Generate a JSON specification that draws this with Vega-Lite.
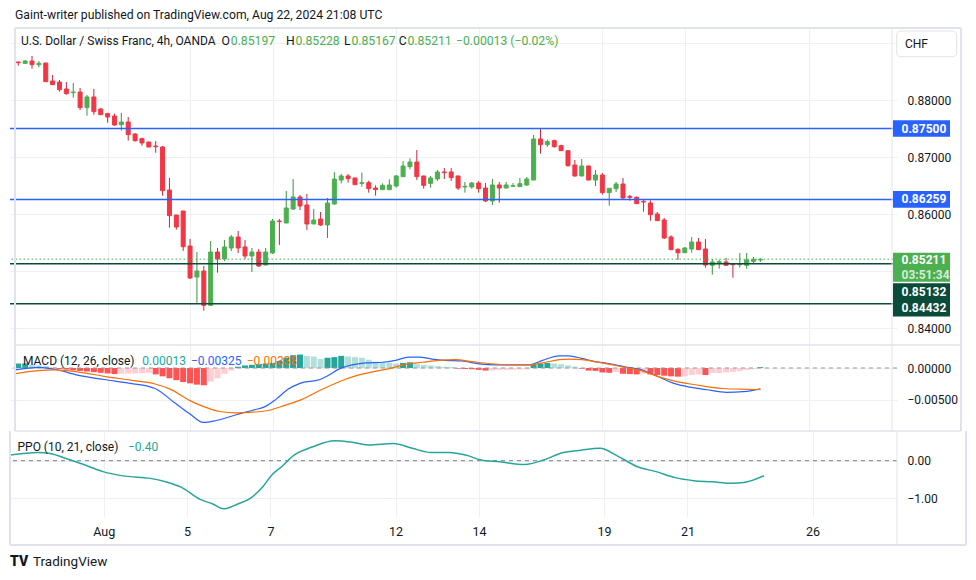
{
"$schema": "https://vega.github.io/schema/vega-lite/v6.json",
"background": "white",
"padding": {"left": 9, "top": 9, "right": 0, "bottom": 0},
"spacing": 0,
"bounds": "flush",
"config": {
 "font": "Roboto",
 "view": {"stroke": null},
 "axis": {"labelFont": "Roboto", "labelFontSize": 12, "labelColor": "#131722", "gridColor": "#eef0f4", "domain": false, "ticks": false, "tickSize": 0}
},
"datasets": {
 "candles": [
{"i":0,"o":0.88666,"h":0.88668,"l":0.88601,"c":0.88654},
{"i":1,"o":0.88642,"h":0.88701,"l":0.8864,"c":0.88683},
{"i":2,"o":0.88683,"h":0.88771,"l":0.88549,"c":0.88619},
{"i":3,"o":0.88619,"h":0.88683,"l":0.88572,"c":0.88642},
{"i":4,"o":0.88648,"h":0.8865,"l":0.88318,"c":0.88321},
{"i":5,"o":0.88333,"h":0.88438,"l":0.88266,"c":0.88269},
{"i":6,"o":0.88315,"h":0.8835,"l":0.88146,"c":0.88181},
{"i":7,"o":0.88193,"h":0.88315,"l":0.88093,"c":0.88111},
{"i":8,"o":0.88128,"h":0.88298,"l":0.88041,"c":0.8814},
{"i":9,"o":0.8814,"h":0.8821,"l":0.87825,"c":0.87866},
{"i":10,"o":0.87866,"h":0.88088,"l":0.87725,"c":0.88053},
{"i":11,"o":0.88053,"h":0.88193,"l":0.87743,"c":0.87796},
{"i":12,"o":0.87842,"h":0.8786,"l":0.8774,"c":0.87743},
{"i":13,"o":0.87761,"h":0.87778,"l":0.87603,"c":0.87702},
{"i":14,"o":0.8772,"h":0.87761,"l":0.87545,"c":0.87562},
{"i":15,"o":0.87568,"h":0.87772,"l":0.87463,"c":0.87615},
{"i":16,"o":0.87615,"h":0.87702,"l":0.87288,"c":0.87393},
{"i":17,"o":0.87404,"h":0.87422,"l":0.8727,"c":0.87288},
{"i":18,"o":0.87323,"h":0.8734,"l":0.872,"c":0.87247},
{"i":19,"o":0.87264,"h":0.87267,"l":0.87174,"c":0.87177},
{"i":20,"o":0.87194,"h":0.87282,"l":0.87077,"c":0.87182},
{"i":21,"o":0.87177,"h":0.87194,"l":0.86324,"c":0.86412},
{"i":22,"o":0.86423,"h":0.86634,"l":0.85763,"c":0.85974},
{"i":23,"o":0.85985,"h":0.85988,"l":0.85728,"c":0.85775},
{"i":24,"o":0.86055,"h":0.86058,"l":0.85355,"c":0.8543},
{"i":25,"o":0.85442,"h":0.85565,"l":0.84864,"c":0.84882},
{"i":26,"o":0.84899,"h":0.85337,"l":0.84449,"c":0.85004},
{"i":27,"o":0.85004,"h":0.85092,"l":0.84309,"c":0.84403},
{"i":28,"o":0.84403,"h":0.8553,"l":0.844,"c":0.85337},
{"i":29,"o":0.85337,"h":0.85407,"l":0.84975,"c":0.85215},
{"i":30,"o":0.85215,"h":0.85547,"l":0.85179,"c":0.85425},
{"i":31,"o":0.85407,"h":0.85635,"l":0.85355,"c":0.856},
{"i":32,"o":0.856,"h":0.85705,"l":0.8532,"c":0.85407},
{"i":33,"o":0.85425,"h":0.85547,"l":0.85215,"c":0.85267},
{"i":34,"o":0.85267,"h":0.85407,"l":0.84987,"c":0.85337},
{"i":35,"o":0.85337,"h":0.8539,"l":0.85074,"c":0.85092},
{"i":36,"o":0.85109,"h":0.85407,"l":0.85105,"c":0.85337},
{"i":37,"o":0.8532,"h":0.85915,"l":0.85302,"c":0.8588},
{"i":38,"o":0.8588,"h":0.85915,"l":0.8546,"c":0.85869},
{"i":39,"o":0.85845,"h":0.86406,"l":0.85842,"c":0.86108},
{"i":40,"o":0.8609,"h":0.86616,"l":0.86073,"c":0.86301},
{"i":41,"o":0.86301,"h":0.86336,"l":0.86073,"c":0.86143},
{"i":42,"o":0.86161,"h":0.86353,"l":0.85723,"c":0.85828},
{"i":43,"o":0.85828,"h":0.8609,"l":0.85825,"c":0.85898},
{"i":44,"o":0.85915,"h":0.86038,"l":0.85793,"c":0.8581},
{"i":45,"o":0.8581,"h":0.86283,"l":0.85582,"c":0.86196},
{"i":46,"o":0.86178,"h":0.86733,"l":0.8616,"c":0.86616},
{"i":47,"o":0.86598,"h":0.86704,"l":0.8654,"c":0.86669},
{"i":48,"o":0.86669,"h":0.86704,"l":0.86552,"c":0.86622},
{"i":49,"o":0.86634,"h":0.86637,"l":0.86514,"c":0.86517},
{"i":50,"o":0.8654,"h":0.86727,"l":0.86482,"c":0.86552},
{"i":51,"o":0.86552,"h":0.86587,"l":0.86377,"c":0.86447},
{"i":52,"o":0.86458,"h":0.86505,"l":0.86324,"c":0.86429},
{"i":53,"o":0.86429,"h":0.8654,"l":0.86426,"c":0.86505},
{"i":54,"o":0.86429,"h":0.8661,"l":0.86426,"c":0.86511},
{"i":55,"o":0.86493,"h":0.86686,"l":0.86464,"c":0.86669},
{"i":56,"o":0.86657,"h":0.86931,"l":0.86654,"c":0.86844},
{"i":57,"o":0.86832,"h":0.86978,"l":0.86785,"c":0.86914},
{"i":58,"o":0.86914,"h":0.87124,"l":0.86598,"c":0.86657},
{"i":59,"o":0.86669,"h":0.86672,"l":0.86447,"c":0.86505},
{"i":60,"o":0.8654,"h":0.86669,"l":0.86464,"c":0.86634},
{"i":61,"o":0.86616,"h":0.86774,"l":0.86581,"c":0.86739},
{"i":62,"o":0.86739,"h":0.86809,"l":0.86616,"c":0.86727},
{"i":63,"o":0.86739,"h":0.86809,"l":0.86581,"c":0.86639},
{"i":64,"o":0.86669,"h":0.86672,"l":0.86423,"c":0.86458},
{"i":65,"o":0.86476,"h":0.86563,"l":0.86377,"c":0.86488},
{"i":66,"o":0.86476,"h":0.86563,"l":0.86447,"c":0.86546},
{"i":67,"o":0.86546,"h":0.86581,"l":0.86377,"c":0.86447},
{"i":68,"o":0.86458,"h":0.86546,"l":0.86213,"c":0.86231},
{"i":69,"o":0.86231,"h":0.86616,"l":0.8616,"c":0.86511},
{"i":70,"o":0.86511,"h":0.86563,"l":0.86201,"c":0.86458},
{"i":71,"o":0.86458,"h":0.86563,"l":0.86455,"c":0.86511},
{"i":72,"o":0.86488,"h":0.86546,"l":0.86485,"c":0.86499},
{"i":73,"o":0.86482,"h":0.86634,"l":0.86479,"c":0.86534},
{"i":74,"o":0.86511,"h":0.86651,"l":0.86493,"c":0.86616},
{"i":75,"o":0.86598,"h":0.87387,"l":0.86595,"c":0.87317},
{"i":76,"o":0.87317,"h":0.87492,"l":0.8706,"c":0.87217},
{"i":77,"o":0.87217,"h":0.87305,"l":0.87182,"c":0.8727},
{"i":78,"o":0.87288,"h":0.87305,"l":0.87165,"c":0.87182},
{"i":79,"o":0.872,"h":0.87217,"l":0.8711,"c":0.87112},
{"i":80,"o":0.87112,"h":0.87115,"l":0.86832,"c":0.8685},
{"i":81,"o":0.86861,"h":0.86949,"l":0.86657,"c":0.86669},
{"i":82,"o":0.86669,"h":0.86966,"l":0.86666,"c":0.86844},
{"i":83,"o":0.86844,"h":0.86847,"l":0.86595,"c":0.86598},
{"i":84,"o":0.86598,"h":0.86774,"l":0.86493,"c":0.86686},
{"i":85,"o":0.86686,"h":0.86721,"l":0.86342,"c":0.86377},
{"i":86,"o":0.86377,"h":0.86458,"l":0.86149,"c":0.86453},
{"i":87,"o":0.86447,"h":0.86563,"l":0.86388,"c":0.86528},
{"i":88,"o":0.86528,"h":0.86634,"l":0.86266,"c":0.86283},
{"i":89,"o":0.86312,"h":0.86336,"l":0.86236,"c":0.86295},
{"i":90,"o":0.86295,"h":0.86312,"l":0.86181,"c":0.86184},
{"i":91,"o":0.86225,"h":0.86248,"l":0.86044,"c":0.86213},
{"i":92,"o":0.86196,"h":0.86242,"l":0.85886,"c":0.85991},
{"i":93,"o":0.86003,"h":0.86038,"l":0.85883,"c":0.85886},
{"i":94,"o":0.85898,"h":0.85933,"l":0.85565,"c":0.85582},
{"i":95,"o":0.856,"h":0.85629,"l":0.85375,"c":0.85378},
{"i":96,"o":0.85384,"h":0.85402,"l":0.85197,"c":0.85325},
{"i":97,"o":0.85325,"h":0.85425,"l":0.85322,"c":0.85407},
{"i":98,"o":0.8539,"h":0.856,"l":0.85325,"c":0.85512},
{"i":99,"o":0.85512,"h":0.85582,"l":0.85375,"c":0.85378},
{"i":100,"o":0.8539,"h":0.85565,"l":0.85063,"c":0.85109},
{"i":101,"o":0.85104,"h":0.85215,"l":0.8494,"c":0.85162},
{"i":102,"o":0.8515,"h":0.85203,"l":0.85045,"c":0.85168},
{"i":103,"o":0.85162,"h":0.85232,"l":0.85098,"c":0.85104},
{"i":104,"o":0.85133,"h":0.85136,"l":0.84887,"c":0.85115},
{"i":105,"o":0.85115,"h":0.8532,"l":0.85063,"c":0.85133},
{"i":106,"o":0.85104,"h":0.8532,"l":0.85045,"c":0.85197},
{"i":107,"o":0.85174,"h":0.8525,"l":0.85139,"c":0.85209},
{"i":108,"o":0.85197,"h":0.85228,"l":0.85167,"c":0.85211}
 ],
 "levels": [
{"p":0.875,"kind":"blue"},{"p":0.86259,"kind":"blue"},{"p":0.85132,"kind":"dark"},{"p":0.84432,"kind":"dark"}
 ],
 "bluetags": [
{"p":0.875,"label":"0.87500"},{"p":0.86259,"label":"0.86259"}
 ],
 "hist": [
{"i":0,"v":0.0007,"shade":"up"},{"i":1,"v":0.0007,"shade":"up"},{"i":2,"v":0.0005,"shade":"upfade"},{"i":3,"v":0.0004,"shade":"upfade"},{"i":4,"v":0.0003,"shade":"upfade"},{"i":5,"v":0.0001,"shade":"upfade"},
{"i":6,"v":-0.00015,"shade":"down"},{"i":7,"v":-0.00025,"shade":"down"},{"i":8,"v":-0.00035,"shade":"down"},{"i":9,"v":-0.00045,"shade":"down"},{"i":10,"v":-0.00055,"shade":"down"},{"i":11,"v":-0.00065,"shade":"down"},{"i":12,"v":-0.00075,"shade":"down"},{"i":13,"v":-0.00085,"shade":"down"},{"i":14,"v":-0.00095,"shade":"down"},
{"i":15,"v":-0.0009,"shade":"downfade"},{"i":16,"v":-0.00088,"shade":"downfade"},{"i":17,"v":-0.00085,"shade":"downfade"},{"i":18,"v":-0.0008,"shade":"downfade"},{"i":19,"v":-0.00075,"shade":"downfade"},
{"i":20,"v":-0.001,"shade":"down"},{"i":21,"v":-0.0013,"shade":"down"},{"i":22,"v":-0.0016,"shade":"down"},{"i":23,"v":-0.0019,"shade":"down"},{"i":24,"v":-0.0022,"shade":"down"},{"i":25,"v":-0.0024,"shade":"down"},{"i":26,"v":-0.0026,"shade":"down"},{"i":27,"v":-0.0027,"shade":"down"},
{"i":28,"v":-0.0021,"shade":"downfade"},{"i":29,"v":-0.0016,"shade":"downfade"},{"i":30,"v":-0.0009,"shade":"downfade"},{"i":31,"v":-0.0004,"shade":"downfade"},
{"i":32,"v":0.0002,"shade":"up"},{"i":33,"v":0.0004,"shade":"up"},{"i":34,"v":0.0005,"shade":"up"},{"i":35,"v":0.0006,"shade":"up"},{"i":36,"v":0.0007,"shade":"up"},{"i":37,"v":0.0008,"shade":"up"},{"i":38,"v":0.0011,"shade":"up"},{"i":39,"v":0.0016,"shade":"up"},{"i":40,"v":0.002,"shade":"up"},{"i":41,"v":0.0021,"shade":"up"},
{"i":42,"v":0.0019,"shade":"upfade"},{"i":43,"v":0.0018,"shade":"upfade"},{"i":44,"v":0.0014,"shade":"upfade"},
{"i":45,"v":0.0016,"shade":"up"},{"i":46,"v":0.0017,"shade":"up"},{"i":47,"v":0.0019,"shade":"up"},
{"i":48,"v":0.0018,"shade":"upfade"},{"i":49,"v":0.0017,"shade":"upfade"},{"i":50,"v":0.0016,"shade":"upfade"},{"i":51,"v":0.0013,"shade":"upfade"},{"i":52,"v":0.001,"shade":"upfade"},{"i":53,"v":0.0009,"shade":"upfade"},{"i":54,"v":0.0008,"shade":"upfade"},{"i":55,"v":0.0007,"shade":"upfade"},
{"i":56,"v":0.0008,"shade":"up"},{"i":57,"v":0.0009,"shade":"up"},
{"i":58,"v":0.0006,"shade":"upfade"},{"i":59,"v":0.0005,"shade":"upfade"},{"i":60,"v":0.0004,"shade":"upfade"},{"i":61,"v":0.0003,"shade":"upfade"},{"i":62,"v":0.0002,"shade":"upfade"},{"i":63,"v":0.00015,"shade":"upfade"},
{"i":64,"v":-0.0001,"shade":"down"},{"i":65,"v":-0.00015,"shade":"down"},{"i":66,"v":-0.0002,"shade":"down"},{"i":67,"v":-0.0003,"shade":"down"},{"i":68,"v":-0.0004,"shade":"down"},
{"i":69,"v":-0.00035,"shade":"downfade"},{"i":70,"v":-0.0003,"shade":"downfade"},{"i":71,"v":-0.0003,"shade":"downfade"},{"i":72,"v":-0.00028,"shade":"downfade"},{"i":73,"v":-0.00025,"shade":"downfade"},{"i":74,"v":-0.0002,"shade":"downfade"},
{"i":75,"v":0.0005,"shade":"up"},{"i":76,"v":0.0007,"shade":"up"},{"i":77,"v":0.0008,"shade":"up"},
{"i":78,"v":0.0007,"shade":"upfade"},{"i":79,"v":0.0006,"shade":"upfade"},{"i":80,"v":0.0004,"shade":"upfade"},{"i":81,"v":0.0002,"shade":"upfade"},
{"i":82,"v":-0.0001,"shade":"down"},{"i":83,"v":-0.0004,"shade":"down"},{"i":84,"v":-0.00045,"shade":"down"},{"i":85,"v":-0.0007,"shade":"down"},{"i":86,"v":-0.00075,"shade":"down"},
{"i":87,"v":-0.0006,"shade":"downfade"},
{"i":88,"v":-0.0009,"shade":"down"},{"i":89,"v":-0.00095,"shade":"down"},{"i":90,"v":-0.001,"shade":"down"},
{"i":91,"v":-0.0009,"shade":"downfade"},
{"i":92,"v":-0.001,"shade":"down"},{"i":93,"v":-0.0011,"shade":"down"},{"i":94,"v":-0.0012,"shade":"down"},{"i":95,"v":-0.0013,"shade":"down"},{"i":96,"v":-0.00135,"shade":"down"},
{"i":97,"v":-0.0013,"shade":"downfade"},{"i":98,"v":-0.0011,"shade":"downfade"},{"i":99,"v":-0.001,"shade":"downfade"},
{"i":100,"v":-0.0011,"shade":"down"},
{"i":101,"v":-0.0008,"shade":"downfade"},{"i":102,"v":-0.00078,"shade":"downfade"},{"i":103,"v":-0.0007,"shade":"downfade"},{"i":104,"v":-0.0006,"shade":"downfade"},{"i":105,"v":-0.0005,"shade":"downfade"},{"i":106,"v":-0.0003,"shade":"downfade"},{"i":107,"v":-0.0002,"shade":"downfade"},
{"i":108,"v":0.00013,"shade":"up"}
 ],
 "macdline": [
{"i":-0.5,"v":-0.0003},{"i":3,"v":0.0001},{"i":5.3,"v":-0.0002},{"i":8.6,"v":-0.0011},{"i":12.5,"v":-0.0018},{"i":16.3,"v":-0.0024},{"i":19.9,"v":-0.0032},{"i":22.6,"v":-0.0053},{"i":25,"v":-0.0072},{"i":26.9,"v":-0.0085},{"i":28.8,"v":-0.0082},{"i":31.7,"v":-0.0073},{"i":34.1,"v":-0.0066},{"i":36,"v":-0.006},{"i":37.5,"v":-0.0049},{"i":39.3,"v":-0.0033},{"i":41,"v":-0.0024},{"i":43.9,"v":-0.0018},{"i":44.9,"v":-0.0013},{"i":46.8,"v":-0.0001},{"i":49.2,"v":0.0006},{"i":50.6,"v":0.0008},{"i":53,"v":0.0009},{"i":54.9,"v":0.0012},{"i":56.8,"v":0.0017},{"i":58.3,"v":0.0017},{"i":60.2,"v":0.0014},{"i":62.1,"v":0.0012},{"i":64.5,"v":0.0011},{"i":67.4,"v":0.0006},{"i":69.3,"v":0.0005},{"i":71.5,"v":0.0005},{"i":74.4,"v":0.0005},{"i":76.3,"v":0.0012},{"i":78.7,"v":0.0019},{"i":80.1,"v":0.0019},{"i":82,"v":0.0015},{"i":83.9,"v":0.001},{"i":85.9,"v":0.0007},{"i":88.3,"v":0.0002},{"i":90.7,"v":-0.0003},{"i":93,"v":-0.0013},{"i":95.4,"v":-0.0024},{"i":97.8,"v":-0.003},{"i":100.2,"v":-0.0034},{"i":103.1,"v":-0.0038},{"i":105.5,"v":-0.0037},{"i":108,"v":-0.00325}
 ],
 "signal": [
{"i":-0.5,"v":-0.0009},{"i":2.9,"v":-0.0004},{"i":5.3,"v":-0.0003},{"i":8.6,"v":-0.0006},{"i":12.5,"v":-0.0013},{"i":16.3,"v":-0.0019},{"i":19.9,"v":-0.0025},{"i":22.1,"v":-0.0033},{"i":25,"v":-0.0051},{"i":26.9,"v":-0.006},{"i":29.3,"v":-0.0068},{"i":31.7,"v":-0.007},{"i":34.1,"v":-0.0069},{"i":36.5,"v":-0.0066},{"i":38.9,"v":-0.0058},{"i":41.3,"v":-0.0049},{"i":43.7,"v":-0.0036},{"i":46.8,"v":-0.0021},{"i":49.2,"v":-0.0012},{"i":51.6,"v":-0.0006},{"i":54,"v":-0.0001},{"i":56.4,"v":0.0006},{"i":58.8,"v":0.0009},{"i":61.2,"v":0.0012},{"i":63.6,"v":0.0013},{"i":66,"v":0.001},{"i":68.4,"v":0.0007},{"i":71.5,"v":0.0005},{"i":74.4,"v":0.0005},{"i":76.3,"v":0.0008},{"i":78.7,"v":0.0013},{"i":80.1,"v":0.0014},{"i":82,"v":0.0013},{"i":83.9,"v":0.001},{"i":85.9,"v":0.0006},{"i":88.3,"v":0.0001},{"i":90.7,"v":-0.0004},{"i":93,"v":-0.0013},{"i":95.4,"v":-0.002},{"i":97.8,"v":-0.0025},{"i":100.2,"v":-0.0029},{"i":102.6,"v":-0.0032},{"i":105,"v":-0.0033},{"i":108,"v":-0.00338}
 ],
 "ppo": [
{"i":-0.5,"v":0.15},{"i":3.5,"v":0.22},{"i":5.3,"v":0.19},{"i":8,"v":0.03},{"i":10.7,"v":-0.14},{"i":12.9,"v":-0.29},{"i":16.1,"v":-0.41},{"i":19.7,"v":-0.47},{"i":21.9,"v":-0.56},{"i":24.2,"v":-0.71},{"i":26.9,"v":-1.03},{"i":28.7,"v":-1.15},{"i":30.3,"v":-1.28},{"i":32.3,"v":-1.15},{"i":34.1,"v":-1.0},{"i":35.9,"v":-0.69},{"i":37.2,"v":-0.38},{"i":38.6,"v":-0.16},{"i":40.4,"v":0.15},{"i":43.1,"v":0.37},{"i":46.2,"v":0.53},{"i":48.5,"v":0.5},{"i":51.1,"v":0.42},{"i":54.7,"v":0.46},{"i":57.4,"v":0.33},{"i":60.1,"v":0.22},{"i":62.8,"v":0.22},{"i":65.1,"v":0.15},{"i":67.3,"v":0.02},{"i":70,"v":-0.03},{"i":73.6,"v":-0.1},{"i":76.3,"v":0.02},{"i":79,"v":0.21},{"i":81.7,"v":0.28},{"i":84.4,"v":0.33},{"i":87.1,"v":0.11},{"i":89.8,"v":-0.16},{"i":92.5,"v":-0.29},{"i":95.2,"v":-0.45},{"i":97.9,"v":-0.53},{"i":100.6,"v":-0.56},{"i":103.3,"v":-0.6},{"i":105.1,"v":-0.58},{"i":108,"v":-0.4}
 ]
},
"vconcat": [
{
 "width": 887, "height": 317,
 "data": {"values": [{}]},
 "layer": [
  {"data": {"name": "candles"}, "mark": {"type": "rule", "strokeWidth": 1, "clip": true},
   "encoding": {
    "x": {"field": "i", "type": "quantitative", "scale": {"domain": [-0.475, 127.15], "nice": false, "zero": false},
      "axis": {"values": [13,25,37,55,67,85,97,115], "labels": false, "grid": true, "title": null}},
    "y": {"field": "l", "type": "quantitative", "scale": {"domain": [0.837078, 0.892614], "nice": false, "zero": false},
      "axis": {"orient": "right", "values": [0.84,0.85,0.86,0.87,0.88,0.89], "format": ".5f", "labelExpr": "abs(datum.value-0.85)<0.0001 || datum.value>0.885 ? '' : datum.label", "grid": true, "labelPadding": 10, "title": null}},
    "y2": {"field": "h"},
    "color": {"condition": {"test": "datum.c >= datum.o", "value": "#3d9140"}, "value": "#c2283a"}
   }},
  {"data": {"name": "candles"}, "mark": {"type": "bar", "size": 4, "strokeWidth": 1, "clip": true},
   "encoding": {
    "x": {"field": "i", "type": "quantitative"},
    "y": {"field": "o", "type": "quantitative"},
    "y2": {"field": "c"},
    "color": {"condition": {"test": "datum.c >= datum.o", "value": "#4caf50"}, "value": "#f23645"},
    "stroke": {"condition": {"test": "datum.c >= datum.o", "value": "#4caf50"}, "value": "#f23645"}
   }},
  {"data": {"name": "levels"}, "mark": {"type": "rule", "strokeWidth": 1.5},
   "encoding": {
    "y": {"field": "p", "type": "quantitative"},
    "color": {"condition": {"test": "datum.kind == 'blue'", "value": "#2962ff"}, "value": "#0a4b3a"}
   }},
  {"mark": {"type": "rule", "color": "#4caf50", "strokeWidth": 1, "strokeDash": [1.5, 2.5]},
   "encoding": {"y": {"datum": 0.85211}}},
  {"mark": {"type": "text", "align": "left", "baseline": "middle", "dy": -13, "fontSize": 12.2, "color": "#131722"},
   "encoding": {"x": {"datum": -0.475}, "y": {"datum": 0.892614}, "text": {"value": "Gaint-writer published on TradingView.com, Aug 22, 2024 21:08 UTC"}}},
  {"mark": {"type": "text", "align": "left", "baseline": "middle", "dx": 6, "dy": 13, "fontSize": 12, "color": "#131722"},
   "encoding": {"x": {"datum": -0.475}, "y": {"datum": 0.892614}, "text": {"value": "U.S. Dollar / Swiss Franc, 4h, OANDA"}}},
  {"mark": {"type": "text", "align": "right", "baseline": "middle", "dx": 215, "dy": 13, "fontSize": 12.2, "color": "#131722"},
   "encoding": {"x": {"datum": -0.475}, "y": {"datum": 0.892614}, "text": {"value": "O"}}},
  {"mark": {"type": "text", "align": "left", "baseline": "middle", "dx": 215.8, "dy": 13, "fontSize": 12.2, "color": "#4caf50"},
   "encoding": {"x": {"datum": -0.475}, "y": {"datum": 0.892614}, "text": {"value": "0.85197"}}},
  {"mark": {"type": "text", "align": "right", "baseline": "middle", "dx": 279.6, "dy": 13, "fontSize": 12.2, "color": "#131722"},
   "encoding": {"x": {"datum": -0.475}, "y": {"datum": 0.892614}, "text": {"value": "H"}}},
  {"mark": {"type": "text", "align": "left", "baseline": "middle", "dx": 280.4, "dy": 13, "fontSize": 12.2, "color": "#4caf50"},
   "encoding": {"x": {"datum": -0.475}, "y": {"datum": 0.892614}, "text": {"value": "0.85228"}}},
  {"mark": {"type": "text", "align": "right", "baseline": "middle", "dx": 335.6, "dy": 13, "fontSize": 12.2, "color": "#131722"},
   "encoding": {"x": {"datum": -0.475}, "y": {"datum": 0.892614}, "text": {"value": "L"}}},
  {"mark": {"type": "text", "align": "left", "baseline": "middle", "dx": 336.4, "dy": 13, "fontSize": 12.2, "color": "#4caf50"},
   "encoding": {"x": {"datum": -0.475}, "y": {"datum": 0.892614}, "text": {"value": "0.85167"}}},
  {"mark": {"type": "text", "align": "right", "baseline": "middle", "dx": 391.6, "dy": 13, "fontSize": 12.2, "color": "#131722"},
   "encoding": {"x": {"datum": -0.475}, "y": {"datum": 0.892614}, "text": {"value": "C"}}},
  {"mark": {"type": "text", "align": "left", "baseline": "middle", "dx": 392.4, "dy": 13, "fontSize": 12.2, "color": "#4caf50"},
   "encoding": {"x": {"datum": -0.475}, "y": {"datum": 0.892614}, "text": {"value": "0.85211"}}},
  {"mark": {"type": "text", "align": "left", "baseline": "middle", "dx": 441, "dy": 13, "fontSize": 12.2, "color": "#4caf50"},
   "encoding": {"x": {"datum": -0.475}, "y": {"datum": 0.892614}, "text": {"value": "\u22120.00013 (\u22120.02%)"}}},
  {"data": {"name": "bluetags"}, "mark": {"type": "rect", "color": "#2962ff", "clip": false, "xOffset": 1, "x2Offset": 58, "yOffset": -8.3, "y2Offset": 8.3},
   "encoding": {"x": {"datum": 127.15}, "x2": {"datum": 127.15}, "y": {"field": "p", "type": "quantitative"}, "y2": {"field": "p"}}},
  {"data": {"name": "bluetags"}, "mark": {"type": "text", "align": "left", "baseline": "middle", "dx": 9.5, "color": "white", "fontSize": 12, "fontWeight": "bold", "clip": false},
   "encoding": {"x": {"datum": 127.15}, "y": {"field": "p", "type": "quantitative"}, "text": {"field": "label"}}},
  {"mark": {"type": "rect", "color": "#4caf50", "clip": false, "xOffset": 1, "x2Offset": 58, "yOffset": -6.5, "y2Offset": 22.5},
   "encoding": {"x": {"datum": 127.15}, "x2": {"datum": 127.15}, "y": {"datum": 0.85211}, "y2": {"datum": 0.85211}}},
  {"mark": {"type": "text", "align": "left", "baseline": "middle", "dx": 9.5, "dy": 1, "color": "white", "fontSize": 12, "fontWeight": "bold", "clip": false},
   "encoding": {"x": {"datum": 127.15}, "y": {"datum": 0.85211}, "text": {"value": "0.85211"}}},
  {"mark": {"type": "text", "align": "left", "baseline": "middle", "dx": 9.5, "dy": 16, "color": "#d6ecd7", "fontSize": 12, "fontWeight": "bold", "clip": false},
   "encoding": {"x": {"datum": 127.15}, "y": {"datum": 0.85211}, "text": {"value": "03:51:34"}}},
  {"mark": {"type": "rect", "color": "#0a4b3a", "clip": false, "xOffset": 1, "x2Offset": 58, "yOffset": 19.6, "y2Offset": 12.9},
   "encoding": {"x": {"datum": 127.15}, "x2": {"datum": 127.15}, "y": {"datum": 0.85132}, "y2": {"datum": 0.84432}}},
  {"mark": {"type": "text", "align": "left", "baseline": "middle", "dx": 9.5, "dy": 28, "color": "white", "fontSize": 12, "fontWeight": "bold", "clip": false},
   "encoding": {"x": {"datum": 127.15}, "y": {"datum": 0.85132}, "text": {"value": "0.85132"}}},
  {"mark": {"type": "text", "align": "left", "baseline": "middle", "dx": 9.5, "dy": 4, "color": "white", "fontSize": 12, "fontWeight": "bold", "clip": false},
   "encoding": {"x": {"datum": 127.15}, "y": {"datum": 0.84432}, "text": {"value": "0.84432"}}},
  {"mark": {"type": "rect", "fill": "white", "stroke": "#e0e3eb", "strokeWidth": 1, "cornerRadius": 4, "clip": false, "xOffset": 4.7, "x2Offset": 64.7, "yOffset": 3, "y2Offset": 28.7},
   "encoding": {"x": {"datum": 127.15}, "x2": {"datum": 127.15}, "y": {"datum": 0.892614}, "y2": {"datum": 0.892614}}},
  {"mark": {"type": "text", "align": "left", "baseline": "middle", "dx": 13, "dy": 16.3, "color": "#131722", "fontSize": 12, "clip": false},
   "encoding": {"x": {"datum": 127.15}, "y": {"datum": 0.892614}, "text": {"value": "CHF"}}},
  {"mark": {"type": "rule", "color": "#e0e3eb", "strokeWidth": 2, "clip": false, "x2Offset": 69},
   "encoding": {"x": {"datum": -0.475}, "x2": {"datum": 127.15}, "y": {"datum": 0.892614}}},
  {"mark": {"type": "rule", "color": "#e0e3eb", "strokeWidth": 1.5, "clip": false, "x2Offset": 69},
   "encoding": {"x": {"datum": -0.475}, "x2": {"datum": 127.15}, "y": {"datum": 0.837078}}},
  {"mark": {"type": "rule", "color": "#e0e3eb", "strokeWidth": 2, "clip": false},
   "encoding": {"x": {"datum": -0.475}, "y": {"datum": 0.892614}, "y2": {"datum": 0.837078}}},
  {"mark": {"type": "rule", "color": "#e0e3eb", "strokeWidth": 1, "clip": false},
   "encoding": {"x": {"datum": 127.15}, "y": {"datum": 0.892614}, "y2": {"datum": 0.837078}}},
  {"mark": {"type": "rule", "color": "#e0e3eb", "strokeWidth": 2, "clip": false, "xOffset": 69},
   "encoding": {"x": {"datum": 127.15}, "y": {"datum": 0.892614}, "y2": {"datum": 0.837078}}}
 ]
},
{
 "width": 887, "height": 86,
 "data": {"values": [{}]},
 "layer": [
  {"data": {"name": "hist"}, "mark": {"type": "bar", "size": 6, "clip": true},
   "encoding": {
    "x": {"field": "i", "type": "quantitative", "scale": {"domain": [-0.475, 127.15], "nice": false, "zero": false},
      "axis": {"values": [13,25,37,55,67,85,97,115], "labels": false, "grid": true, "title": null}},
    "y": {"field": "v", "type": "quantitative", "scale": {"domain": [-0.0098438, 0.0035938], "nice": false, "zero": false},
      "axis": {"orient": "right", "values": [0, -0.005], "format": ".5f", "grid": true, "labelPadding": 10, "title": null}},
    "y2": {"datum": 0},
    "color": {"condition": [
      {"test": "datum.shade == 'up'", "value": "#26a69a"},
      {"test": "datum.shade == 'upfade'", "value": "#b2dfdb"},
      {"test": "datum.shade == 'down'", "value": "#ff5252"}], "value": "#ffcdd2"}
   }},
  {"mark": {"type": "rule", "color": "#9598a1", "strokeWidth": 1, "strokeDash": [4, 4]},
   "encoding": {"y": {"datum": 0}}},
  {"data": {"name": "macdline"}, "mark": {"type": "line", "color": "#2962ff", "strokeWidth": 1.2, "interpolate": "monotone", "clip": true},
   "encoding": {"x": {"field": "i", "type": "quantitative"}, "y": {"field": "v", "type": "quantitative"}}},
  {"data": {"name": "signal"}, "mark": {"type": "line", "color": "#ff6d00", "strokeWidth": 1.2, "interpolate": "monotone", "clip": true},
   "encoding": {"x": {"field": "i", "type": "quantitative"}, "y": {"field": "v", "type": "quantitative"}}},
  {"mark": {"type": "text", "align": "left", "baseline": "middle", "dx": 8, "dy": 16, "fontSize": 12, "color": "#131722"},
   "encoding": {"x": {"datum": -0.475}, "y": {"datum": 0.0035938}, "text": {"value": "MACD (12, 26, close)"}}},
  {"mark": {"type": "text", "align": "left", "baseline": "middle", "dx": 127.3, "dy": 16, "fontSize": 12, "color": "#26a69a"},
   "encoding": {"x": {"datum": -0.475}, "y": {"datum": 0.0035938}, "text": {"value": "0.00013"}}},
  {"mark": {"type": "text", "align": "left", "baseline": "middle", "dx": 176, "dy": 16, "fontSize": 12, "color": "#2962ff"},
   "encoding": {"x": {"datum": -0.475}, "y": {"datum": 0.0035938}, "text": {"value": "\u22120.00325"}}},
  {"mark": {"type": "text", "align": "left", "baseline": "middle", "dx": 231.7, "dy": 16, "fontSize": 12, "color": "#ff6d00"},
   "encoding": {"x": {"datum": -0.475}, "y": {"datum": 0.0035938}, "text": {"value": "\u22120.00338"}}},
  {"mark": {"type": "rule", "color": "#e0e3eb", "strokeWidth": 1.5, "clip": false, "x2Offset": 69},
   "encoding": {"x": {"datum": -0.475}, "x2": {"datum": 127.15}, "y": {"datum": -0.0098438}}},
  {"mark": {"type": "rule", "color": "#e0e3eb", "strokeWidth": 2, "clip": false},
   "encoding": {"x": {"datum": -0.475}, "y": {"datum": 0.0035938}, "y2": {"datum": -0.0098438}}},
  {"mark": {"type": "rule", "color": "#e0e3eb", "strokeWidth": 1, "clip": false},
   "encoding": {"x": {"datum": 127.15}, "y": {"datum": 0.0035938}, "y2": {"datum": -0.0098438}}},
  {"mark": {"type": "rule", "color": "#e0e3eb", "strokeWidth": 2, "clip": false, "xOffset": 69},
   "encoding": {"x": {"datum": 127.15}, "y": {"datum": 0.0035938}, "y2": {"datum": -0.0098438}}}
 ]
},
{
 "width": 887, "height": 86,
 "data": {"values": [{}]},
 "layer": [
  {"mark": {"type": "rule", "color": "#787b86", "strokeWidth": 1, "strokeDash": [4, 4]},
   "encoding": {"y": {"datum": 0, "type": "quantitative", "scale": {"domain": [-1.497, 0.79], "nice": false, "zero": false}}}},
  {"data": {"name": "ppo"}, "mark": {"type": "line", "color": "#26a69a", "strokeWidth": 1.5, "interpolate": "monotone", "clip": true},
   "encoding": {
    "x": {"field": "i", "type": "quantitative", "scale": {"domain": [-0.475, 127.15], "nice": false, "zero": false},
      "axis": {"values": [13,25,37,55,67,85,97,115], "labelExpr": "datum.value==13?'Aug':datum.value==25?'5':datum.value==37?'7':datum.value==55?'12':datum.value==67?'14':datum.value==85?'19':datum.value==97?'21':'26'", "labelFontSize": 12.5, "labelPadding": 8, "labelOverlap": false, "labelFlush": false, "grid": true, "title": null}},
    "y": {"field": "v", "type": "quantitative", "scale": {"domain": [-1.497, 0.79], "nice": false, "zero": false},
      "axis": {"orient": "right", "values": [0, -1], "format": ".2f", "grid": true, "labelPadding": 10, "title": null}}
   }},
  {"mark": {"type": "text", "align": "left", "baseline": "middle", "dx": 7.5, "dy": 16.3, "fontSize": 12, "color": "#131722"},
   "encoding": {"x": {"datum": -0.475}, "y": {"datum": 0.79}, "text": {"value": "PPO (10, 21, close)"}}},
  {"mark": {"type": "text", "align": "left", "baseline": "middle", "dx": 118, "dy": 16.3, "fontSize": 12, "color": "#26a69a"},
   "encoding": {"x": {"datum": -0.475}, "y": {"datum": 0.79}, "text": {"value": "\u22120.40"}}},
  {"mark": {"type": "rule", "color": "#e0e3eb", "strokeWidth": 2, "clip": false, "y2Offset": 28},
   "encoding": {"x": {"datum": -0.475}, "y": {"datum": 0.79}, "y2": {"datum": -1.497}}},
  {"mark": {"type": "rule", "color": "#e0e3eb", "strokeWidth": 1, "clip": false, "y2Offset": 28},
   "encoding": {"x": {"datum": 127.15}, "y": {"datum": 0.79}, "y2": {"datum": -1.497}}},
  {"mark": {"type": "rule", "color": "#e0e3eb", "strokeWidth": 2, "clip": false, "xOffset": 69, "y2Offset": 28},
   "encoding": {"x": {"datum": 127.15}, "y": {"datum": 0.79}, "y2": {"datum": -1.497}}},
  {"mark": {"type": "rule", "color": "#e0e3eb", "strokeWidth": 2, "clip": false, "x2Offset": 69, "yOffset": 28},
   "encoding": {"x": {"datum": -0.475}, "x2": {"datum": 127.15}, "y": {"datum": -1.497}}},
  {"mark": {"type": "text", "align": "left", "baseline": "middle", "dx": 0, "dy": 45, "fontSize": 14, "fontWeight": 900, "color": "#131722", "clip": false},
   "encoding": {"x": {"datum": -0.475}, "y": {"datum": -1.497}, "text": {"value": "TV"}}},
  {"mark": {"type": "text", "align": "left", "baseline": "middle", "dx": 23, "dy": 45, "fontSize": 13.5, "color": "#131722", "clip": false},
   "encoding": {"x": {"datum": -0.475}, "y": {"datum": -1.497}, "text": {"value": "TradingView"}}}
 ]
}
]
}
